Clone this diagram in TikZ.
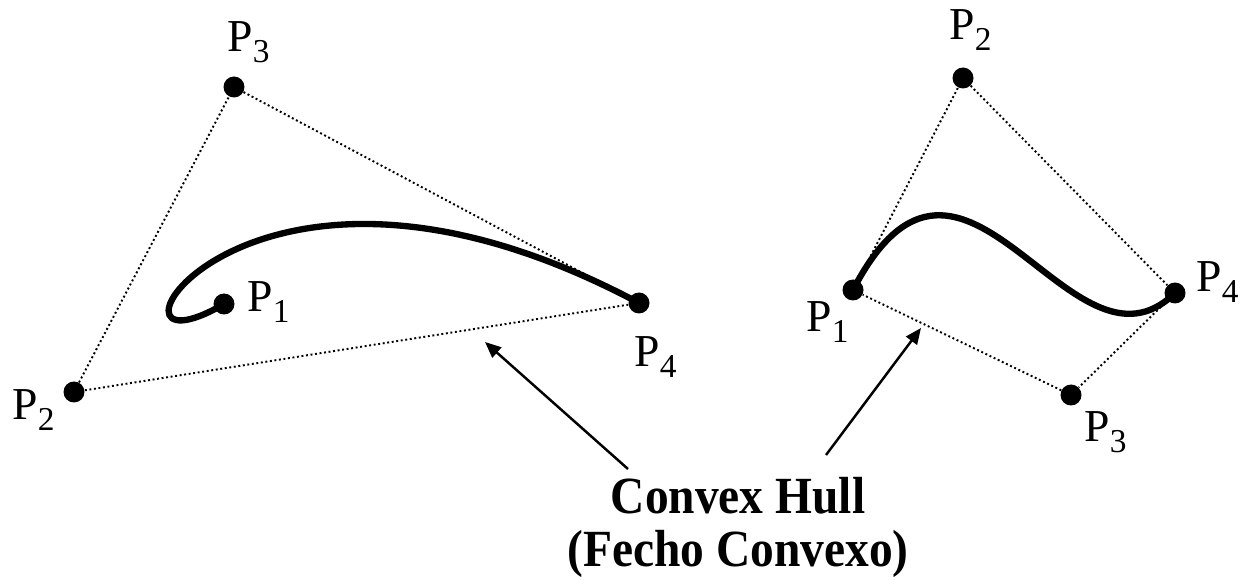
\documentclass[tikz,border=0pt]{standalone}
\usepackage{fontspec}
\setmainfont{Liberation Serif}
\usepackage{tikz}
\usetikzlibrary{arrows.meta}
\newcommand{\Pn}[1]{P\raisebox{-0.22cm}{\fontsize{19}{19}\selectfont #1}}

\begin{document}
\begin{tikzpicture}[x=0.02cm,y=-0.02cm,
  ctrl/.style={circle,fill=black,inner sep=0pt,minimum size=0.42cm},
  hull/.style={line width=1.1pt,dash pattern=on 1.1pt off 1.5pt},
  curve/.style={line width=3.6pt},
  pointer/.style={line width=1.4pt,-{Triangle[length=0.32cm,width=0.27cm]}},
  lbl/.style={anchor=base west,inner sep=0pt,font=\fontsize{26}{30}\selectfont},
  caption/.style={anchor=base,inner sep=0pt,yscale=1.1,font=\fontsize{27}{32}\selectfont\bfseries}]
 \useasboundingbox (0,0) rectangle (1241,580);
 % left curve
 \node[ctrl] (a1) at (224,304) {};
 \node[ctrl] (a2) at (74,392) {};
 \node[ctrl] (a3) at (234,87) {};
 \node[ctrl] (a4) at (639,303) {};
 \draw[hull] (a2) -- (a3) -- (a4) -- (a2);
 \draw[curve] (a1.center) .. controls (a2.center) and (a3.center) .. (a4.center);
 \node[lbl] (la1) at (247,312) {\Pn{1}};
 \node[lbl] (la2) at (12,420) {\Pn{2}};
 \node[lbl] (la3) at (227,52) {\Pn{3}};
 \node[lbl] (la4) at (634,367) {\Pn{4}};
 % right curve
 \node[ctrl] (b1) at (853,290) {};
 \node[ctrl] (b2) at (963,78) {};
 \node[ctrl] (b3) at (1071,395) {};
 \node[ctrl] (b4) at (1175,293) {};
 \draw[hull] (b1) -- (b2) -- (b4) -- (b3) -- (b1);
 \draw[curve] (b1.center) .. controls (b2.center) and (b3.center) .. (b4.center);
 \node[lbl] (lb1) at (806,332) {\Pn{1}};
 \node[lbl] (lb2) at (949,40) {\Pn{2}};
 \node[lbl] (lb3) at (1084,442) {\Pn{3}};
 \node[lbl] (lb4) at (1196,292) {\Pn{4}};
 % caption
 \node[caption] (name) at (738,514) {Convex Hull};
 \node[caption] (namept) at (738,567) {(Fecho Convexo)};
 \coordinate (s1) at (628,469);
 \coordinate (e1) at (485,342);
 \coordinate (s2) at (826,455);
 \coordinate (e2) at (921,328);
 \draw[pointer] (s1) -- (e1);
 \draw[pointer] (s2) -- (e2);
\end{tikzpicture}
\end{document}
